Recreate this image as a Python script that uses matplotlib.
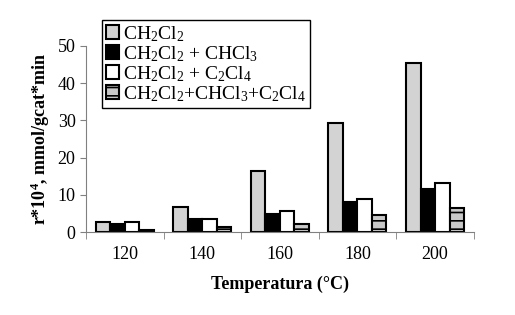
import matplotlib as mpl
mpl.use('Agg')
import matplotlib.pyplot as plt
import numpy as np

temps = ['120', '140', '160', '180', '200']
ch2cl2 = [2.8, 6.8, 16.5, 29.2, 45.5]
ch2cl2_chcl3 = [2.3, 3.4, 5.0, 8.0, 11.5]
ch2cl2_c2cl4 = [2.6, 3.4, 5.7, 9.0, 13.2]
ch2cl2_all = [0.7, 1.5, 2.3, 4.5, 6.5]
labels = [r'CH$_2$Cl$_2$', r'CH$_2$Cl$_2$ + CHCl$_3$', r'CH$_2$Cl$_2$ + C$_2$Cl$_4$',
          r'CH$_2$Cl$_2$+CHCl$_3$+C$_2$Cl$_4$']

plt.rcParams['font.family'] = 'Liberation Serif'
plt.rcParams['mathtext.fontset'] = 'custom'
plt.rcParams['mathtext.rm'] = 'Liberation Serif'
plt.rcParams['mathtext.it'] = 'Liberation Serif'
plt.rcParams['mathtext.bf'] = 'Liberation Serif:bold'
plt.rcParams['hatch.linewidth'] = 1.2

fig = plt.figure(figsize=(5.15, 3.15), dpi=100)
ax = fig.add_axes([0.167, 0.263, 0.753, 0.591])

x = np.arange(len(temps))
w = 0.187
series = [ch2cl2, ch2cl2_chcl3, ch2cl2_c2cl4, ch2cl2_all]
faces = ['#d3d3d3', 'black', 'white', '#c8c8c8']
hatches = [None, None, None, '--']
for i, (vals, fc, h) in enumerate(zip(series, faces, hatches)):
    ax.bar(x + (i - 1.5) * w, vals, w, color=fc, edgecolor='black', linewidth=1.5,
           hatch=h, label=labels[i])

ax.set_xlim(-0.5, 4.5)
ax.set_ylim(0, 50)
ax.set_yticks(range(0, 51, 10))
ax.set_xticks(x)
ax.set_xticklabels(temps)
ax.set_xticks(np.arange(-0.5, 5, 1), minor=True)
ax.tick_params(axis='x', which='major', length=0, labelsize=13, pad=10)
ax.tick_params(axis='x', which='minor', length=5, color='#808080', direction='out')
ax.tick_params(axis='y', length=4, color='#808080', labelsize=13)
for s in ['top', 'right']:
    ax.spines[s].set_visible(False)
for s in ['left', 'bottom']:
    ax.spines[s].set_color('#808080')

ax.set_xlabel('Temperatura (°C)', fontsize=13, fontweight='bold', labelpad=9)
ax.set_ylabel(r'r*10$^\mathbf{4}$, mmol/gcat*min', fontsize=13, fontweight='bold', labelpad=4)

leg = ax.legend(loc='upper left', bbox_to_anchor=(0.041, 1.14), fontsize=14,
                handlelength=0.7, handleheight=0.7, handletextpad=0.2,
                borderpad=0.2, borderaxespad=0, labelspacing=0.02,
                fancybox=False, framealpha=1)
leg.get_frame().set_edgecolor('black')
leg.get_frame().set_linewidth(1.0)

plt.savefig('out.png', dpi=100)
